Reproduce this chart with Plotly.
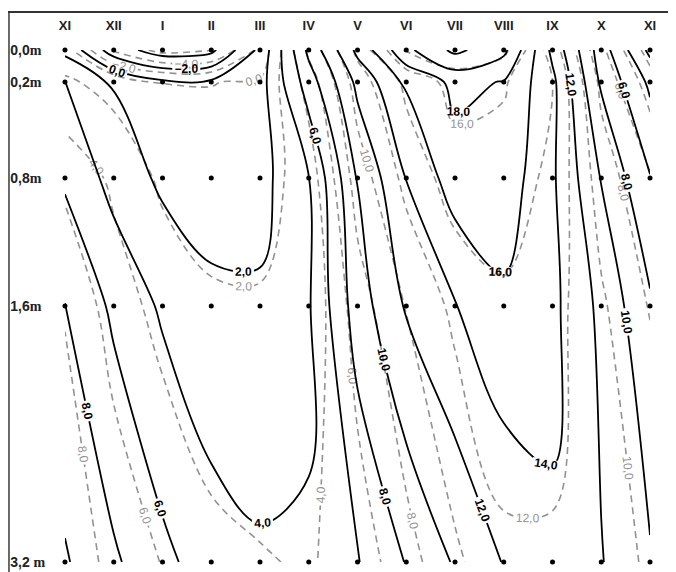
import plotly.graph_objects as go

# ---- data ----
months = ["XI", "XII", "I", "II", "III", "IV", "V", "VI", "VII", "VIII", "IX", "X", "XI"]
month_idx = list(range(len(months)))
depths = [0.0, 0.2, 0.8, 1.6, 3.2]
depth_numbers = ["0,0", "0,2", "0,8", "1,6", "3,2 "]
depth_unit = "m"

# series 1 (solid black isolines), rows = depths, cols = months
solid_00 = [1.5, -3.0, -5.0, -4.5, 0.5, 8.5, 14.5, 19.5, 22.5, 20.5, 13.5, 7.0, 1.5]
solid_02 = [4.1, 1.8, 0.3, 0.3, 1.2, 7.0, 12.5, 16.3, 18.5, 17.9, 14.5, 7.7, 3.6]
solid_08 = [5.7, 3.3, 1.6, 1.2, 1.3, 3.95, 10.1, 14.05, 17.0, 17.2, 14.3, 9.9, 6.1]
solid_16 = [8.05, 5.6, 3.7, 2.4, 2.3, 3.8, 9.0, 12.2, 13.9, 15.6, 14.5, 11.5, 8.3]
solid_32 = [10.2, 8.3, 6.5, 5.0, 4.3, 4.1, 5.9, 8.1, 10.2, 12.1, 13.7, 12.1, 10.2]

# series 2 (dashed grey isolines)
dashed_00 = [0.8, -4.5, -6.6, -6.3, -1.5, 6.5, 12.5, 18.3, 19.7, 18.5, 13.0, 6.5, 1.0]
dashed_02 = [2.3, 1.3, -0.05, -0.05, 0.2, 4.8, 11.0, 14.5, 16.8, 16.2, 14.0, 7.5, 3.0]
dashed_08 = [5.5, 3.6, 1.6, 1.0, 1.1, 2.9, 8.9, 12.6, 15.0, 15.2, 13.5, 9.1, 6.2]
dashed_16 = [7.9, 5.0, 3.3, 2.3, 2.2, 2.4, 7.0, 10.1, 12.5, 13.6, 12.8, 10.3, 7.9]
dashed_32 = [8.9, 7.6, 5.9, 4.6, 4.15, 3.8, 4.9, 7.2, 9.6, 11.6, 11.8, 11.0, 9.7]

solid_z = [solid_00, solid_02, solid_08, solid_16, solid_32]
dashed_z = [dashed_00, dashed_02, dashed_08, dashed_16, dashed_32]

FONT = "Liberation Sans"
GREY = "#929292"

depth_labels = [
    n + "<span style='font-family:Liberation Serif'>" + depth_unit + "</span>"
    for n in depth_numbers
]

fig = go.Figure()

fig.add_trace(go.Contour(
    x=month_idx, y=depths, z=dashed_z,
    contours=dict(coloring="none", start=-6, end=22, size=2, showlabels=True,
                  labelformat=".1f",
                  labelfont=dict(family=FONT, size=12, color=GREY)),
    line=dict(color=GREY, width=1.6, dash="7px,5px", smoothing=1.0),
    showscale=False, hoverinfo="skip",
))

fig.add_trace(go.Contour(
    x=month_idx, y=depths, z=solid_z,
    contours=dict(coloring="none", start=-6, end=22, size=2, showlabels=True,
                  labelformat=".1f",
                  labelfont=dict(family=FONT, size=12, color="black", weight="bold")),
    line=dict(color="black", width=1.8, smoothing=1.0),
    showscale=False, hoverinfo="skip",
))

# measurement points
px, py = [], []
for d in depths:
    for m in month_idx:
        px.append(m)
        py.append(d)
fig.add_trace(go.Scatter(x=px, y=py, mode="markers",
                         marker=dict(color="black", size=5),
                         hoverinfo="skip", showlegend=False))

fig.update_layout(
    width=676, height=572,
    margin=dict(l=0, r=0, t=5, b=0, autoexpand=False),
    paper_bgcolor="white", plot_bgcolor="white",
    separators=", ",
    showlegend=False,
    font=dict(family=FONT, color="#222"),
    xaxis=dict(range=[-1.169, 12.697], side="top", tickvals=month_idx, ticktext=months,
               ticklabelposition="inside", ticks="inside", ticklen=8,
               tickcolor="rgba(0,0,0,0)", automargin=False,
               tickfont=dict(family=FONT, size=13, color="#222", weight="bold"),
               showgrid=False, zeroline=False, showline=True,
               linecolor="#333", linewidth=1.5),
    yaxis=dict(range=[3.3125, -0.231], tickvals=depths, ticktext=depth_labels,
               ticklabelposition="inside", ticks="inside", ticklen=2,
               tickcolor="rgba(0,0,0,0)", automargin=False,
               tickfont=dict(family=FONT, size=14, color="#222", weight="bold"),
               showgrid=False, zeroline=False, showline=False),
    shapes=[
        dict(type="line", xref="x", yref="paper", x0=-1.15, x1=-1.15, y0=0, y1=1,
             line=dict(color="#666", width=2)),
    ],
)

fig.write_html("out.html")
